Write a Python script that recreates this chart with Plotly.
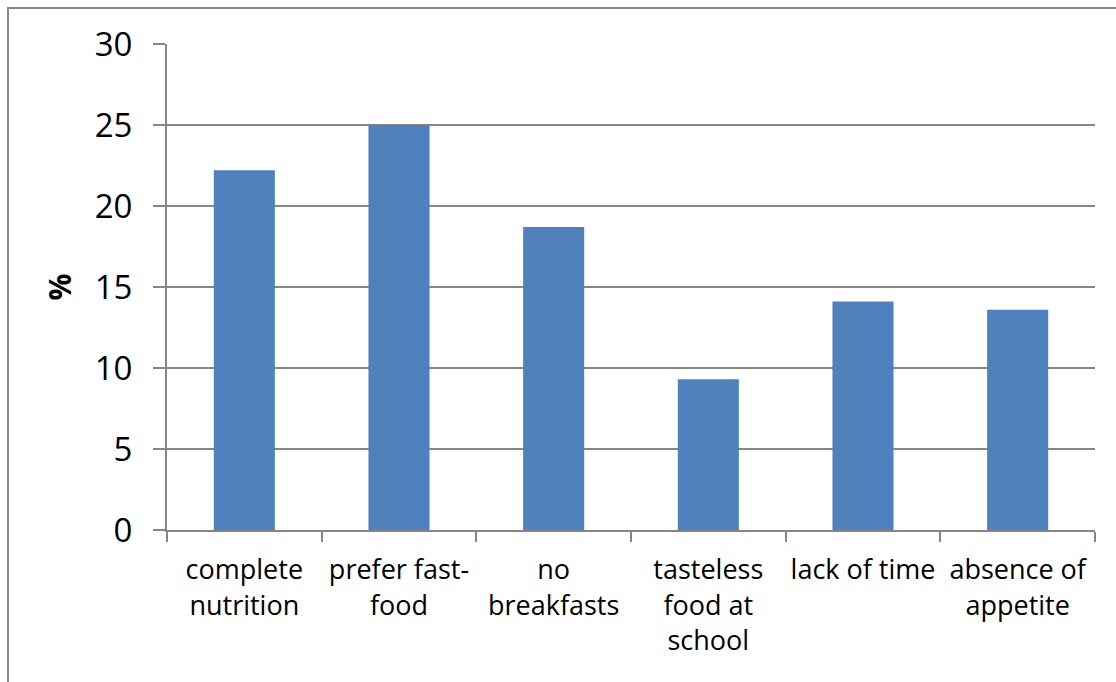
import plotly.graph_objects as go

categories = ["complete<br>nutrition", "prefer fast-<br>food", "no<br>breakfasts",
              "tasteless<br>food at<br>school", "lack of time", "absence of<br>appetite"]
values = [22.2, 25.0, 18.7, 9.3, 14.1, 13.6]
y_ticks = [0, 5, 10, 15, 20, 25, 30]

GRID = "#868686"
FONT = "Open Sans"

fig = go.Figure(go.Bar(x=categories, y=values, marker=dict(color="#4F81BD", line=dict(width=0))))

W, H = 1116, 682
L, R, T, B = 167, 21, 44, 152
pw, ph = W - L - R, H - T - B

fig.update_layout(
    width=W, height=H,
    margin=dict(l=L, r=R, t=T, b=B, autoexpand=False),
    paper_bgcolor="white", plot_bgcolor="white",
    bargap=0.605,
    showlegend=False,
    font=dict(family=FONT, color="black"),
)
fig.update_xaxes(
    showline=True, linecolor=GRID, linewidth=2,
    ticks="outside", ticklen=10, tickcolor=GRID, tickwidth=2,
    tickson="boundaries", tickangle=0, automargin=False,
    tickfont=dict(size=27, family=FONT, color="black"),
    ticklabelstandoff=15,
    showgrid=False,
)
fig.update_yaxes(
    range=[0, 30], tickvals=y_ticks, automargin=False,
    showline=True, linecolor=GRID, linewidth=2,
    ticks="outside", ticklen=12, tickcolor=GRID, tickwidth=2,
    showgrid=True, gridcolor=GRID, gridwidth=2,
    zeroline=False,
    tickfont=dict(size=33, family=FONT, color="black"),
    ticklabelstandoff=14,
    title=dict(text="<b>%</b>", font=dict(size=30, family=FONT, color="black"), standoff=14),
)

# outer chart border (partially cropped in the reference)
bx = (8 - L) / pw
by = (H - B - 8) / ph
fig.add_shape(type="rect", xref="paper", yref="paper",
              x0=bx, x1=1.5, y0=-1.0, y1=by,
              line=dict(color=GRID, width=2), layer="below")

fig.write_html("out.html")
